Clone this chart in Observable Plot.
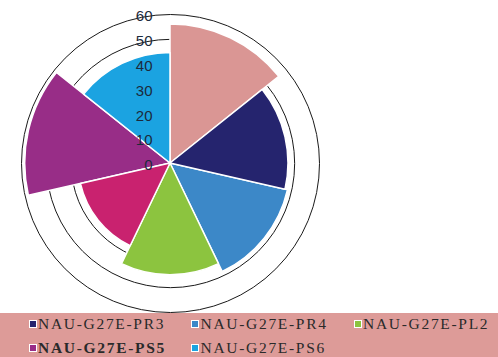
<!DOCTYPE html>
<html>
<head>
<meta charset="utf-8">
<script src="https://cdn.jsdelivr.net/npm/d3@7"></script>
<script src="https://cdn.jsdelivr.net/npm/@observablehq/plot@0.6"></script>
<style>
  html, body { margin: 0; padding: 0; background: #ffffff; }
  #chart svg { display: block; }
  #legend { position: relative; width: 498px; height: 44px; background: #DD9B98; overflow: hidden;
            font-family: "Liberation Serif", "DejaVu Serif", serif; font-size: 15.5px; color: #2a2a2a; }
  .sw { position: absolute; width: 6px; height: 6px; border: 1px solid #ffffff; }
  .lab { position: absolute; white-space: nowrap; line-height: 16px; letter-spacing: 1.7px; }
</style>
</head>
<body>
<div id="chart"></div>
<div id="legend"></div>
<script>
// ---- data ----
const categories = ["NAU-G27E-PR2", "NAU-G27E-PR3", "NAU-G27E-PR4", "NAU-G27E-PL2", "NAU-G27E-PL3", "NAU-G27E-PS5", "NAU-G27E-PS6"];
const values = [56, 47.5, 48.5, 45, 37, 58.5, 44.5];
const colors = ["#DA9694", "#25246E", "#3C88C8", "#8CC43F", "#C9226F", "#982D87", "#1BA3E1"];
const gridTicks = [0, 10, 20, 30, 40, 50, 60];
// legend entries visible in the picture (the first column lies outside it)
const legendItems = ["NAU-G27E-PR3", "NAU-G27E-PR4", "NAU-G27E-PL2", "NAU-G27E-PS5", "NAU-G27E-PS6"];
const boldItems = ["NAU-G27E-PS5"];

// ---- chart ----
const cx = 170, cy = 163, R = 149;
const n = categories.length;
const data = categories.map((c, i) => ({c, v: values[i], i}));

const plot = Plot.plot({
  width: 498,
  height: 313,
  margin: 0,
  style: {background: "transparent"},
  x: {domain: [-60, 60], range: [cx - R, cx + R], axis: null},
  y: {domain: [-60, 60], range: [cy + R, cy - R], axis: null},
  r: {type: "linear", domain: [0, 60], range: [0, R]},
  color: {domain: categories, range: colors},
  marks: [
    Plot.dot(gridTicks.filter(t => t > 0), {x: 0, y: 0, r: d => d, stroke: "#1a1a1a", strokeWidth: 1, fill: "none"}),
    Plot.dot(data, {
      x: 0, y: 0, r: "v", fill: "c", stroke: "#ffffff", strokeWidth: 1.5,
      render(index, scales, vals) {
        const g = d3.create("svg:g");
        const arc = d3.arc();
        const step = 2 * Math.PI / n;
        for (const i of index) {
          g.append("path")
            .attr("transform", `translate(${vals.x[i]},${vals.y[i]})`)
            .attr("d", arc({innerRadius: 0, outerRadius: vals.r[i], startAngle: data[i].i * step, endAngle: (data[i].i + 1) * step}))
            .attr("fill", vals.fill[i])
            .attr("stroke", "#ffffff")
            .attr("stroke-width", 1.5)
            .attr("stroke-linejoin", "round");
        }
        return g.node();
      }
    }),
    Plot.text(gridTicks, {x: 0, y: d => d, text: d => String(d), textAnchor: "end", dx: -18, dy: 2,
      fontSize: 15, fill: "#1c2a3c", fontFamily: "Liberation Sans, Arial, sans-serif"})
  ]
});
document.getElementById("chart").appendChild(plot);

// ---- legend ----
const legend = document.getElementById("legend");
const colX = [29, 191.5, 354];
const rowTop = [7, 31];
const colorScale = plot.scale("color");
legendItems.forEach((c, k) => {
  const col = k < 3 ? k : k - 3;
  const row = k < 3 ? 0 : 1;
  const sw = document.createElement("div");
  sw.className = "sw";
  sw.style.left = (colX[col] - 0.5) + "px";
  sw.style.top = (rowTop[row] - 0.5) + "px";
  sw.style.background = colorScale.apply(c);
  legend.appendChild(sw);
  const lab = document.createElement("div");
  lab.className = "lab";
  lab.style.left = (colX[col] + 9) + "px";
  lab.style.top = (rowTop[row] - 4) + "px";
  if (boldItems.includes(c)) { lab.style.fontWeight = "bold"; lab.style.letterSpacing = "1.7px"; }
  lab.textContent = c;
  legend.appendChild(lab);
});
</script>
</body>
</html>
